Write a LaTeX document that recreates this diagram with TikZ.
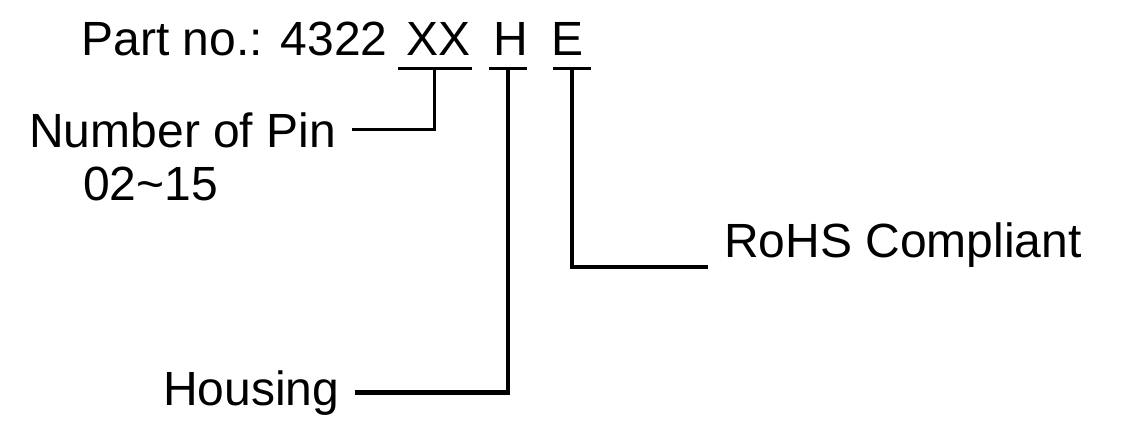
\documentclass[tikz,border=0pt]{standalone}
\usepackage{fontspec}
\setmainfont{Liberation Sans}

\begin{document}
\begin{tikzpicture}[x=0.75pt,y=-0.75pt,
  every node/.style={font=\fontsize{36}{43}\selectfont,inner sep=0pt,anchor=base west},
  lead/.style={line width=2.25pt},
  stem/.style={line width=3.2pt},
  label/.style={outer xsep=12pt}]
\fill[white] (0,0) rectangle (1122,430);
\useasboundingbox (0,0) rectangle (1122,430);
% part number
\node (part) at (81.3,55) {Part no.: 4322};
\node (xx) at (406,55) {XX};
\node (h) at (493,55) {H};
\node (e) at (551,55) {E};
% labels
\node[label] (pin) at (13.3,147) {Number of Pin};
\node (range) at (83,200) {02\textasciitilde15};
\node[label] (housing) at (147.2,405) {Housing};
\node[label] (rohs) at (708.2,257) {RoHS Compliant};
% underlines
\coordinate (xxa) at (398,68);
\coordinate (xxb) at (472,68);
\coordinate (xxm) at (434,68);
\coordinate (ha) at (489,68);
\coordinate (hb) at (527,68);
\coordinate (hm) at (508,68);
\coordinate (ea) at (553,68);
\coordinate (eb) at (591,68);
\coordinate (em) at (572,68);
\draw[lead] (xxa) -- (xxb);
\draw[lead] (ha) -- (hb);
\draw[lead] (ea) -- (eb);
% leaders
\draw[lead] (xxm) |- (pin.east);
\draw[stem] (hm) |- (housing.east);
\draw[stem] (em) |- (rohs.south west);
\end{tikzpicture}
\end{document}
